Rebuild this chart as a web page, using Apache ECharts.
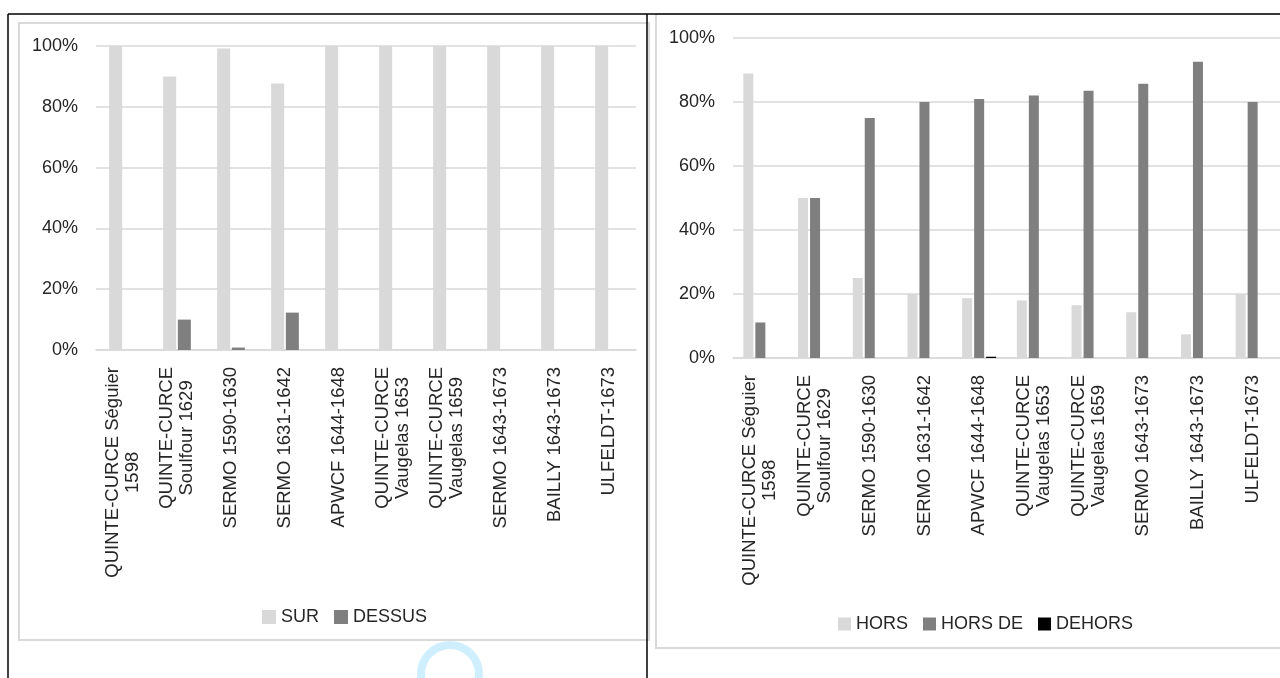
<!DOCTYPE html>
<html>
<head>
<meta charset="utf-8">
<script src="https://cdn.jsdelivr.net/npm/echarts@6/dist/echarts.min.js"></script>
<style>
html,body{margin:0;padding:0;background:#fff;}
#c{width:1280px;height:678px;}
</style>
</head>
<body>
<div id="c"></div>
<script>
const categories = [
  "QUINTE-CURCE Séguier\n1598",
  "QUINTE-CURCE\nSoulfour 1629",
  "SERMO 1590-1630",
  "SERMO 1631-1642",
  "APWCF 1644-1648",
  "QUINTE-CURCE\nVaugelas 1653",
  "QUINTE-CURCE\nVaugelas 1659",
  "SERMO 1643-1673",
  "BAILLY 1643-1673",
  "ULFELDT-1673"
];
const sur    = [100, 90, 99.2, 87.7, 100, 100, 100, 100, 100, 100];
const dessus = [0, 10, 0.8, 12.3, 0, 0, 0, 0, 0, 0];
const hors   = [88.9, 50, 25, 20, 18.7, 18, 16.5, 14.3, 7.4, 20];
const horsDe = [11.1, 50, 75, 80, 80.9, 82, 83.5, 85.7, 92.6, 80];
const dehors = [0, 0, 0, 0, 0.4, 0, 0, 0, 0, 0];
const yMin = 0, yMax = 100, yStep = 20;

const FONT = "'Liberation Sans', Arial, sans-serif";
const TXT = "#262626";
const GRID = "#d9d9d9";
const LIGHT = "#d9d9d9", DARK = "#7f7f7f", BLACK = "#000000";

function xLabel(v){
  return v.split("\n").map(s => "{c|" + s + "}").join("\n");
}
function xAxis(gi, margin){
  return {
    type: "category", gridIndex: gi, data: categories,
    axisTick: {show: false},
    axisLine: {lineStyle: {color: GRID, width: 1.5}},
    axisLabel: {
      rotate: 90, margin: margin, interval: 0, formatter: xLabel,
      rich: {c: {align: "center", fontSize: 18.5, fontFamily: FONT, color: TXT, lineHeight: 20}}
    }
  };
}
function yAxis(gi){
  return {
    type: "value", gridIndex: gi, min: yMin, max: yMax, interval: yStep,
    axisLine: {show: false}, axisTick: {show: false},
    splitLine: {lineStyle: {color: GRID, width: 1.5}},
    axisLabel: {formatter: "{value}%", fontSize: 18, fontFamily: FONT, color: TXT, margin: 18, padding: [5,0,0,0]}
  };
}

const chart = echarts.init(document.getElementById("c"));
chart.setOption({
  animation: false,
  backgroundColor: "#ffffff",
  graphic: [
    {type: "rect", shape: {x: 19, y: 23, width: 630, height: 617}, style: {fill: "none", stroke: GRID, lineWidth: 2}, z: 0},
    {type: "rect", shape: {x: 656, y: 14, width: 660, height: 634}, style: {fill: "none", stroke: GRID, lineWidth: 2}, z: 0},
    {type: "line", shape: {x1: 8, y1: 14, x2: 1280, y2: 14}, style: {stroke: "#000", lineWidth: 1.5}, z: 1},
    {type: "line", shape: {x1: 8, y1: 14, x2: 8, y2: 678}, style: {stroke: "#000", lineWidth: 1.5}, z: 1},
    {type: "line", shape: {x1: 647, y1: 14, x2: 647, y2: 678}, style: {stroke: "#000", lineWidth: 1.5}, z: 1},
    {type: "ring", shape: {cx: 450, cy: 674, r: 33, r0: 25}, style: {fill: "#cfefff"}, z: 0}
  ],
  grid: [
    {left: 96, top: 46, width: 540, height: 304},
    {left: 733, top: 38, width: 550, height: 320}
  ],
  xAxis: [xAxis(0, 17), xAxis(1, 17)],
  yAxis: [yAxis(0), yAxis(1)],
  legend: [
    {data: ["SUR", "DESSUS"], left: 257, top: 603, icon: "rect", itemWidth: 14, itemHeight: 14, itemGap: 15,
     textStyle: {fontSize: 18, fontFamily: FONT, color: TXT}},
    {data: ["HORS", "HORS DE", "DEHORS"], left: 833, top: 610, icon: "rect", itemWidth: 13, itemHeight: 13, itemGap: 15,
     textStyle: {fontSize: 18, fontFamily: FONT, color: TXT}}
  ],
  series: [
    {name: "SUR", type: "bar", xAxisIndex: 0, yAxisIndex: 0, data: sur, barWidth: 13, barGap: "13%", itemStyle: {color: LIGHT}},
    {name: "DESSUS", type: "bar", xAxisIndex: 0, yAxisIndex: 0, data: dessus, barWidth: 13, barGap: "13%", itemStyle: {color: DARK}},
    {name: "HORS", type: "bar", xAxisIndex: 1, yAxisIndex: 1, data: hors, barWidth: 10, barGap: "20%", itemStyle: {color: LIGHT}},
    {name: "HORS DE", type: "bar", xAxisIndex: 1, yAxisIndex: 1, data: horsDe, barWidth: 10, barGap: "20%", itemStyle: {color: DARK}},
    {name: "DEHORS", type: "bar", xAxisIndex: 1, yAxisIndex: 1, data: dehors, barWidth: 10, barGap: "20%", itemStyle: {color: BLACK}}
  ]
});
</script>
</body>
</html>
